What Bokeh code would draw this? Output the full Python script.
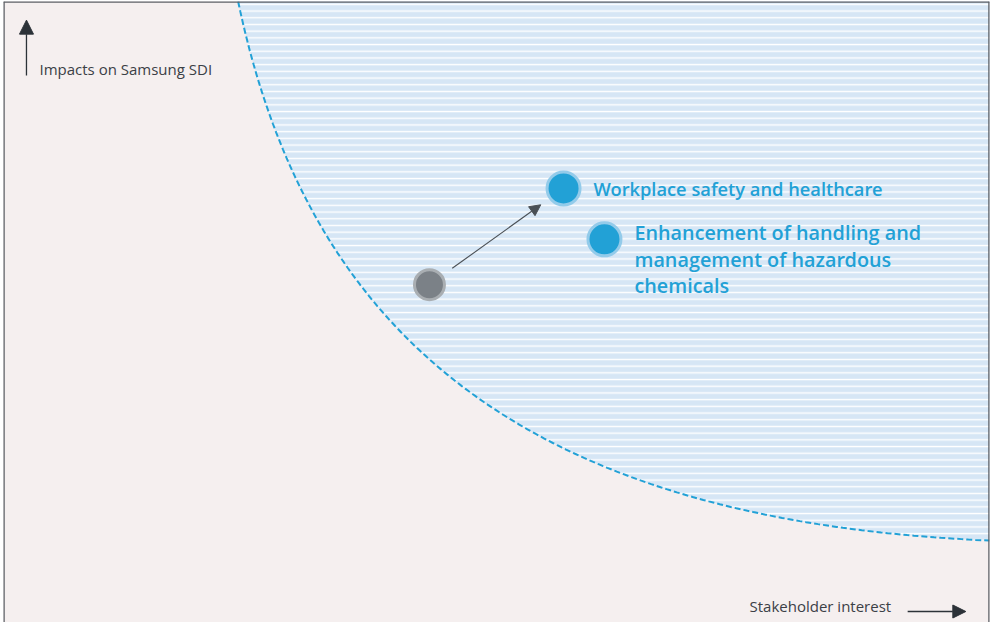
import numpy as np
from bokeh.plotting import figure
from bokeh.models import Range1d, Span, Arrow, NormalHead, Label
from bokeh.embed import file_html
from bokeh.resources import INLINE

# ---------------- data (0-100 scale on both axes) ----------------
topics = ["Workplace safety and healthcare",
          "Enhancement of handling and\nmanagement of hazardous\nchemicals"]
stakeholder_interest = [56.8, 60.95]
impact_on_sdi = [69.9, 61.7]
# previous position of "Workplace safety and healthcare"
prev_interest = [43.2]
prev_impact = [54.4]
# materiality threshold curve (cubic Bezier control points)
threshold_x = [23.8, 30.8, 52.3, 100.0]
threshold_y = [100.0, 46.9, 16.4, 13.2]
axis_x_label = "Stakeholder interest"
axis_y_label = "Impacts on Samsung SDI"

BLUE = "#22a1d6"
TEXT = "#3b4046"
LABEL_FONT = "Open Sans SemiBold, Open Sans"

p = figure(width=993, height=622, output_backend="svg", toolbar_location=None,
           x_range=Range1d(0, 100), y_range=Range1d(0, 100),
           min_border_left=3, min_border_right=4, min_border_top=1, min_border_bottom=0,
           background_fill_color="#f5efef", border_fill_color="white",
           outline_line_color=None)
p.axis.visible = False
p.grid.visible = False

# threshold region
t = np.linspace(0, 1, 200)
bx = np.array(threshold_x)
by = np.array(threshold_y)
cx = ((1 - t) ** 3) * bx[0] + 3 * ((1 - t) ** 2) * t * bx[1] + 3 * (1 - t) * t ** 2 * bx[2] + t ** 3 * bx[3]
cy = ((1 - t) ** 3) * by[0] + 3 * ((1 - t) ** 2) * t * by[1] + 3 * (1 - t) * t ** 2 * by[2] + t ** 3 * by[3]
px = list(cx) + [bx[3] + 2, bx[3] + 2, bx[0]]
py = list(cy) + [by[3], by[0] + 2, by[0] + 2]
p.patch(px, py, fill_color="#d6e6f5", line_color=None,
        hatch_pattern="horizontal_line", hatch_color="white", hatch_scale=6.7, hatch_weight=1.4)
p.line(cx, cy, line_color=BLUE, line_width=2, line_dash="6 3")

# movement arrow
x0, y0 = prev_interest[0], prev_impact[0]
x1, y1 = stakeholder_interest[0], impact_on_sdi[0]
p.add_layout(Arrow(end=NormalHead(size=11, fill_color="#4a5056", line_color="#4a5056"),
                   x_start=x0 + 0.17 * (x1 - x0), y_start=y0 + 0.17 * (y1 - y0),
                   x_end=x0 + 0.83 * (x1 - x0), y_end=y0 + 0.83 * (y1 - y0),
                   line_color="#4a5056", line_width=1.1))

# points
p.scatter(prev_interest, prev_impact, size=30, fill_color="#7b8187",
          line_color="#a9aeb2", line_width=3)
p.scatter(stakeholder_interest, impact_on_sdi, size=33, fill_color=BLUE,
          line_color="#93cbea", line_width=3)

p.add_layout(Label(x=stakeholder_interest[0], y=impact_on_sdi[0], text=topics[0],
                   x_offset=30, y_offset=0, text_baseline="middle",
                   text_font=LABEL_FONT, text_font_style="normal",
                   text_font_size="18.3px", text_color=BLUE))
p.add_layout(Label(x=stakeholder_interest[1], y=impact_on_sdi[1], text=topics[1],
                   x_offset=30, y_offset=20, text_baseline="top", text_line_height=0.97,
                   text_font=LABEL_FONT, text_font_style="normal",
                   text_font_size="19.8px", text_color=BLUE))

# axis arrows and titles
p.add_layout(Arrow(end=NormalHead(size=14, fill_color="#2c3238", line_color="#2c3238"),
                   x_start=2.33, y_start=88.1, x_end=2.33, y_end=97.0,
                   line_color="#2c3238", line_width=1.3))
p.add_layout(Label(x=3.65, y=89.2, text=axis_y_label, text_baseline="middle",
                   text_font="Open Sans", text_font_size="15px", text_color=TEXT))
p.add_layout(Arrow(end=NormalHead(size=13, fill_color="#2c3238", line_color="#2c3238"),
                   x_start=91.7, y_start=1.77, x_end=97.6, y_end=1.77,
                   line_color="#2c3238", line_width=1.3))
p.add_layout(Label(x=75.66, y=2.58, text=axis_x_label, text_baseline="middle",
                   text_font="Open Sans", text_font_size="15px", text_color=TEXT))

# frame borders (left, right, top)
for loc, dim in [(0, "height"), (100, "height"), (100, "width")]:
    p.add_layout(Span(location=loc, dimension=dim, line_color="#5d6166", line_width=2.5))

open("out.html", "w").write(file_html(p, INLINE))
